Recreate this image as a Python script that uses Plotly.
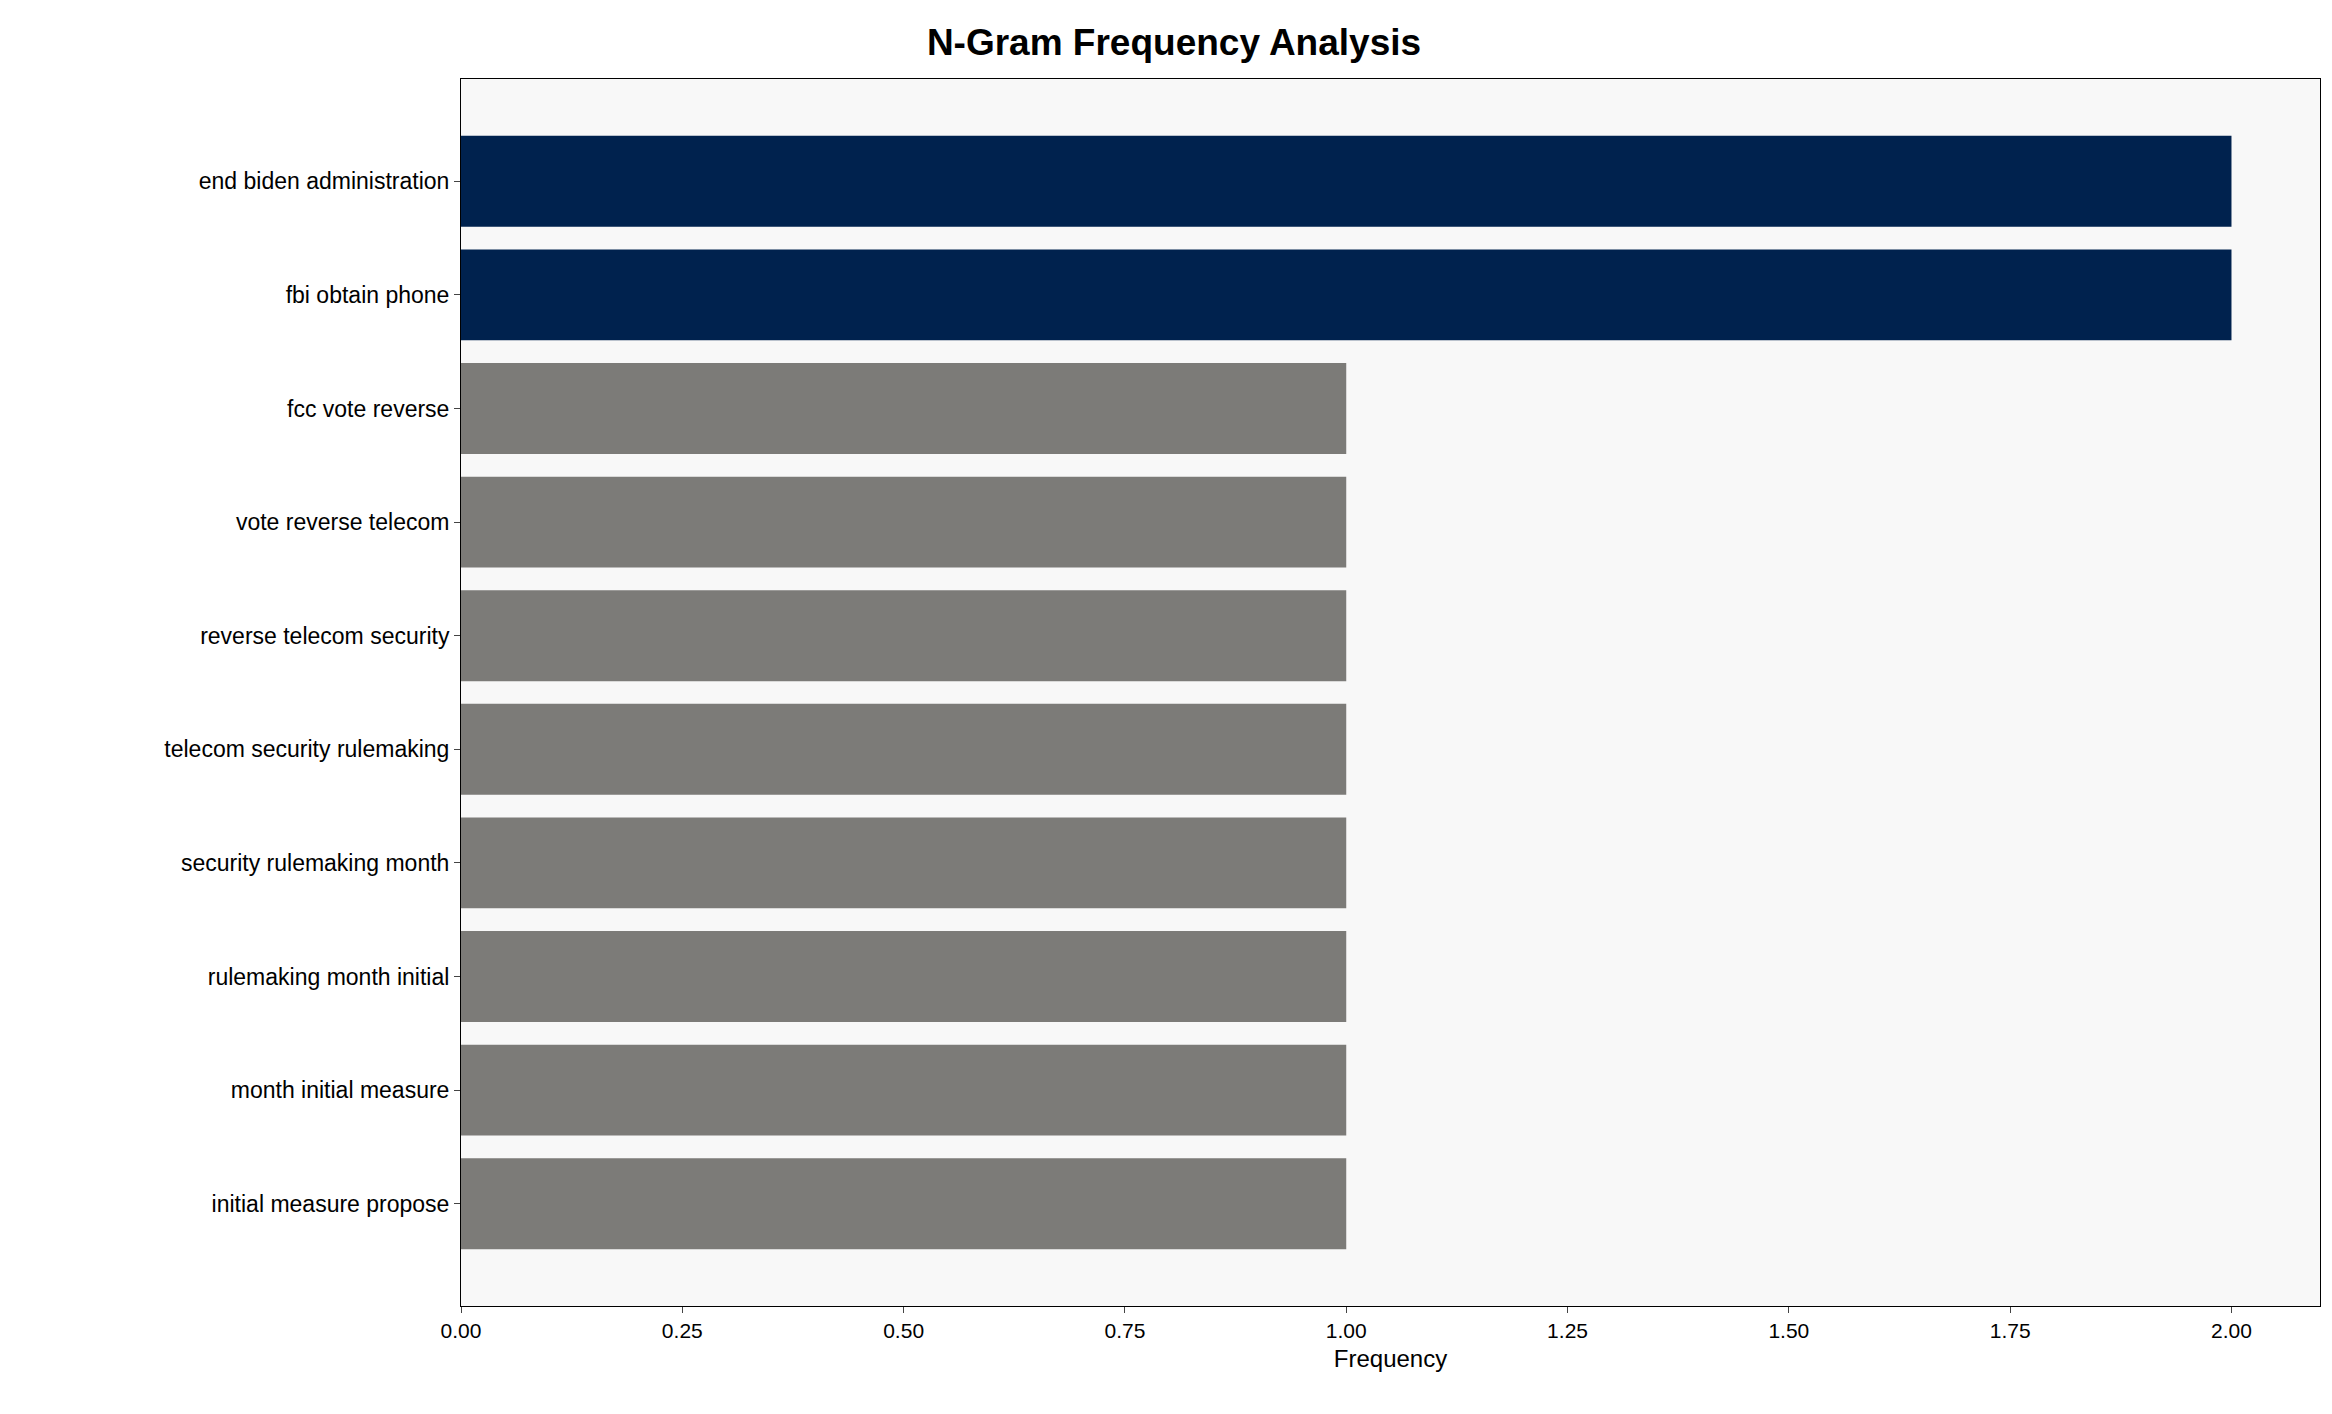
import plotly.graph_objects as go

ngrams = ["end biden administration", "fbi obtain phone", "fcc vote reverse",
          "vote reverse telecom", "reverse telecom security", "telecom security rulemaking",
          "security rulemaking month", "rulemaking month initial", "month initial measure",
          "initial measure propose"]
freqs = [2, 2, 1, 1, 1, 1, 1, 1, 1, 1]
colors = ["#00224e" if f == 2 else "#7c7b78" for f in freqs]
tickvals = [0, 0.25, 0.5, 0.75, 1.0, 1.25, 1.5, 1.75, 2.0]
ticktext = ["0.00", "0.25", "0.50", "0.75", "1.00", "1.25", "1.50", "1.75", "2.00"]

fig = go.Figure(go.Bar(x=freqs, y=ngrams, orientation="h", width=0.8,
                       marker=dict(color=colors, line=dict(width=0))))
font = "Liberation Sans, Arial, sans-serif"
fig.update_layout(
    width=2332, height=1414, paper_bgcolor="white", plot_bgcolor="#f8f8f8",
    margin=dict(l=453, r=20, t=71, b=116),
    title=dict(text="<b>N-Gram Frequency Analysis</b>", x=0.5, xanchor="center",
               y=0.985, yanchor="top", font=dict(family=font, size=37, color="black")),
    font=dict(family=font, size=22, color="black"),
    showlegend=False,
)
fig.update_xaxes(range=[0, 2.1], tickvals=tickvals, ticktext=ticktext,
                 title=dict(text="Frequency", font=dict(size=24), standoff=8),
                 showgrid=False, zeroline=False, showline=True, linecolor="black",
                 mirror=True, ticks="outside", ticklen=6, tickfont=dict(size=21))
fig.update_yaxes(categoryorder="array", categoryarray=ngrams, range=[9.9, -0.9],
                 showgrid=False, zeroline=False, showline=True, linecolor="black",
                 mirror=True, ticks="outside", ticklen=6, tickfont=dict(size=23))
fig.write_html("out.html")
